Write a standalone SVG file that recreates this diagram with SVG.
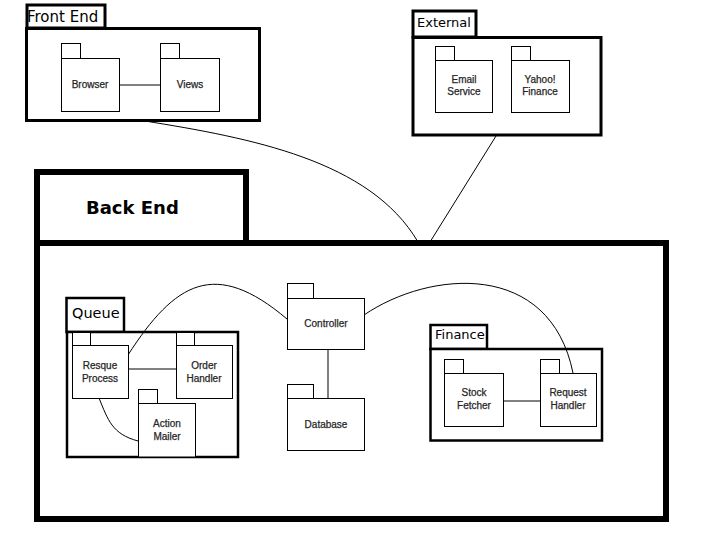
<svg xmlns="http://www.w3.org/2000/svg" width="720" height="534" viewBox="0 0 720 534">
<style>
.bg{fill:#fff}
.cont{fill:#fff;stroke:#000;stroke-width:3}
.sub{fill:#fff;stroke:#000;stroke-width:2.5}
.big{fill:#fff;stroke:#000;stroke-width:6}
.pk{fill:#fff;stroke:#000;stroke-width:1}
.conn{fill:none;stroke:#000;stroke-width:1}
.title{font-family:"DejaVu Sans",Verdana,sans-serif;fill:#000}
.lbl{font-family:"Liberation Sans",Arial,sans-serif;font-size:10px;fill:#262626;stroke:#262626;stroke-width:0.25;text-anchor:middle}
</style>
<rect class="bg" x="0" y="0" width="720" height="534"/>

<g id="front-end">
  <rect class="cont" x="27" y="5" width="78" height="23"/>
  <rect class="cont" x="26.5" y="28.5" width="233" height="92"/>
  <text class="title" x="27" y="22" font-size="15">Front End</text>
</g>

<g id="external">
  <rect class="cont" x="413" y="11" width="63" height="26"/>
  <rect class="cont" x="413" y="37.5" width="188" height="97.5"/>
  <text class="title" x="417" y="27" font-size="13">External</text>
</g>

<g id="back-end">
  <rect class="big" x="37" y="172" width="209" height="71"/>
  <rect class="big" x="37" y="243" width="629" height="276"/>
  <text class="title" x="86" y="214" font-size="18" font-weight="700">Back End</text>
</g>

<g id="queue">
  <rect class="sub" x="66.5" y="298" width="57.5" height="34"/>
  <rect class="sub" x="67" y="332" width="171" height="125"/>
  <text class="title" x="72" y="318" font-size="14.5">Queue</text>
</g>

<g id="finance">
  <rect class="sub" x="430.5" y="325" width="56.5" height="24"/>
  <rect class="sub" x="430.5" y="349" width="171.5" height="91.5"/>
  <text class="title" x="435" y="339" font-size="13">Finance</text>
</g>

<g id="connectors">
  <line class="conn" x1="119" y1="85" x2="160" y2="85"/>
  <path class="conn" d="M145,121 C250,138 370,160 418,242"/>
  <line class="conn" x1="496" y1="136" x2="430" y2="242"/>
  <path class="conn" d="M128,355 C175,282 215,258 287,319"/>
  <line class="conn" x1="128" y1="369" x2="176" y2="369"/>
  <path class="conn" d="M99,398 C108,420 112,434 138,441"/>
  <line class="conn" x1="328" y1="349" x2="328" y2="398"/>
  <path class="conn" d="M364,315 C430,270 550,260 573,373"/>
  <line class="conn" x1="503" y1="401" x2="540" y2="401"/>
</g>

<g id="browser">
  <rect class="pk" x="61.5" y="43.5" width="19" height="15"/>
  <rect class="pk" x="61.5" y="58.5" width="58" height="53"/>
  <text class="lbl" x="90" y="88">Browser</text>
</g>
<g id="views">
  <rect class="pk" x="160.5" y="43.5" width="19" height="15"/>
  <rect class="pk" x="160.5" y="58.5" width="59" height="53"/>
  <text class="lbl" x="190" y="88">Views</text>
</g>
<g id="email-service">
  <rect class="pk" x="435.5" y="46.5" width="19" height="14"/>
  <rect class="pk" x="435.5" y="60.5" width="57" height="52"/>
  <text class="lbl" x="464" y="83">Email</text>
  <text class="lbl" x="464" y="95">Service</text>
</g>
<g id="yahoo-finance">
  <rect class="pk" x="511.5" y="46.5" width="19" height="14"/>
  <rect class="pk" x="511.5" y="60.5" width="58" height="52"/>
  <text class="lbl" x="540" y="83">Yahoo!</text>
  <text class="lbl" x="540" y="95">Finance</text>
</g>
<g id="controller">
  <rect class="pk" x="287.5" y="283.5" width="26" height="15"/>
  <rect class="pk" x="287.5" y="298.5" width="77" height="51"/>
  <text class="lbl" x="326" y="327">Controller</text>
</g>
<g id="database">
  <rect class="pk" x="287.5" y="384.5" width="26" height="14"/>
  <rect class="pk" x="287.5" y="398.5" width="77" height="52"/>
  <text class="lbl" x="326" y="428">Database</text>
</g>
<g id="resque-process">
  <rect class="pk" x="72.5" y="332.5" width="18" height="13"/>
  <rect class="pk" x="72.5" y="345.5" width="56" height="53"/>
  <text class="lbl" x="100" y="369">Resque</text>
  <text class="lbl" x="100" y="382">Process</text>
</g>
<g id="order-handler">
  <rect class="pk" x="176.5" y="332.5" width="18" height="13"/>
  <rect class="pk" x="176.5" y="345.5" width="56" height="53"/>
  <text class="lbl" x="204" y="369">Order</text>
  <text class="lbl" x="204" y="382">Handler</text>
</g>
<g id="action-mailer">
  <rect class="pk" x="138.5" y="389.5" width="19" height="14"/>
  <rect class="pk" x="138.5" y="403.5" width="57" height="53.5"/>
  <text class="lbl" x="167" y="427">Action</text>
  <text class="lbl" x="167" y="440">Mailer</text>
</g>
<g id="stock-fetcher">
  <rect class="pk" x="444.5" y="359.5" width="19" height="14"/>
  <rect class="pk" x="444.5" y="373.5" width="59" height="53"/>
  <text class="lbl" x="474" y="396">Stock</text>
  <text class="lbl" x="474" y="409">Fetcher</text>
</g>
<g id="request-handler">
  <rect class="pk" x="540.5" y="359.5" width="19" height="14"/>
  <rect class="pk" x="540.5" y="373.5" width="56" height="53"/>
  <text class="lbl" x="568" y="396">Request</text>
  <text class="lbl" x="568" y="409">Handler</text>
</g>
</svg>
